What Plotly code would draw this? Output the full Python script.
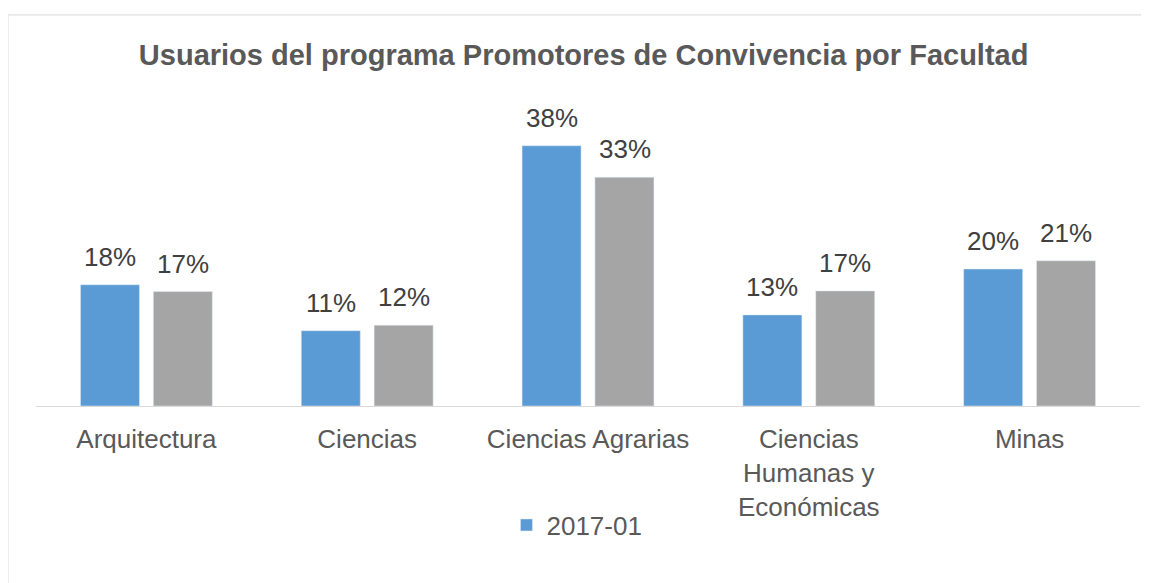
import plotly.graph_objects as go

facultades = ["Arquitectura", "Ciencias", "Ciencias Agrarias",
              "Ciencias<br>Humanas y<br>Económicas", "Minas"]
serie_2017_01 = [0.177, 0.110, 0.380, 0.133, 0.200]
serie_2017_02 = [0.167, 0.118, 0.334, 0.168, 0.212]

font_family = "Liberation Sans, Arial, sans-serif"

fig = go.Figure()
fig.add_trace(go.Bar(
    x=facultades, y=serie_2017_01, name="2017-01",
    marker=dict(color="#5B9BD5"),
))
fig.add_trace(go.Bar(
    x=facultades, y=serie_2017_02, name="2017-02",
    marker=dict(color="#A5A5A5"), showlegend=False,
))

# data labels sit a bit higher above the bars than plotly's outside text
for serie, shift in ((serie_2017_01, -36.5), (serie_2017_02, 36.5)):
    for cat, val in zip(facultades, serie):
        fig.add_annotation(
            x=cat, y=val, xref="x", yref="y",
            text=f"{val:.0%}", showarrow=False,
            xshift=shift, yanchor="bottom", yshift=11,
            font=dict(size=26, color="#404040"),
        )

fig.update_layout(
    width=1149, height=583,
    margin=dict(l=28, r=17, t=92, b=185),
    paper_bgcolor="white", plot_bgcolor="white",
    font=dict(family=font_family, color="#595959"),
    title=dict(text="<b>Usuarios del programa Promotores de Convivencia por Facultad</b>",
               x=0.501, xref="container", xanchor="center",
               y=0.919, yref="container", yanchor="middle",
               font=dict(size=29, color="#595959")),
    barmode="group", bargap=0.34, bargroupgap=0.19,
    showlegend=True,
    legend=dict(orientation="h", x=0.49, xanchor="center",
                y=-0.389, yanchor="middle",
                font=dict(size=26, color="#595959")),
    xaxis=dict(showline=True, linecolor="#D9D9D9", linewidth=1,
               ticks="", ticklabelstandoff=10,
               tickfont=dict(size=26, color="#595959")),
    yaxis=dict(range=[0, 0.4467], visible=False, showgrid=False),
)

# chart border
fig.add_shape(type="rect", xref="paper", yref="paper",
              x0=-0.0254, x1=1.05, y0=-0.7, y1=1.278,
              line=dict(color="#D9D9D9", width=1), layer="below")

fig.write_html("out.html")
